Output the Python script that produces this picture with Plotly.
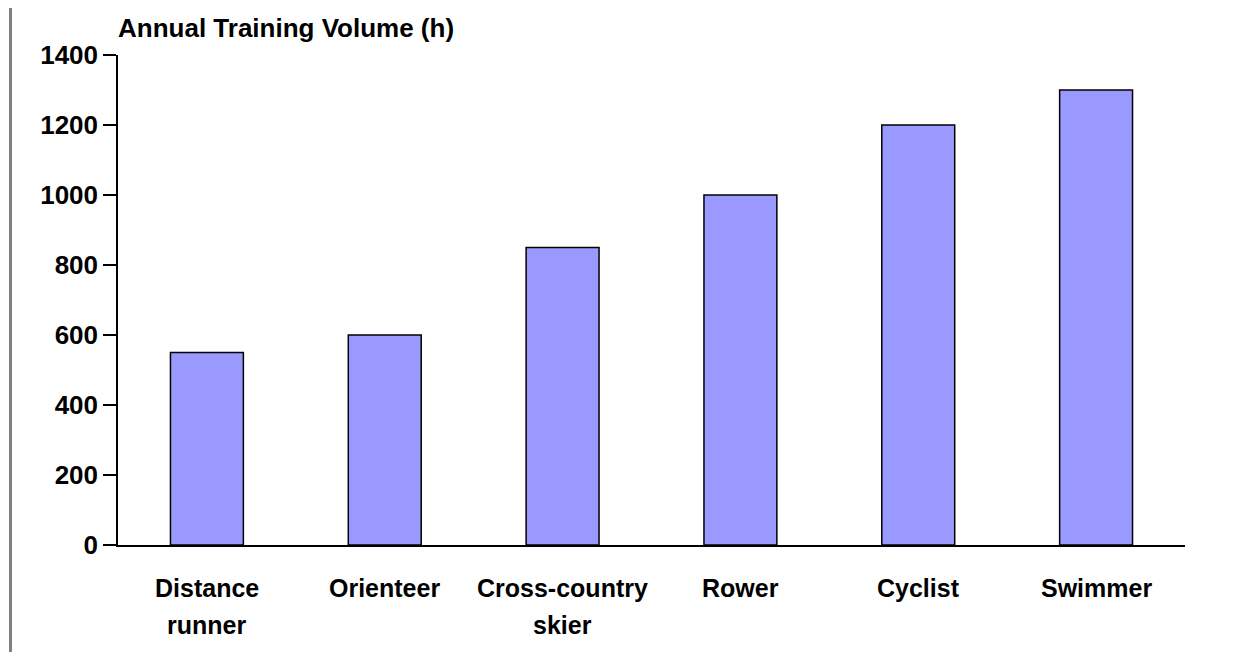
import plotly.graph_objects as go

categories = ["Distance runner", "Orienteer", "Cross-country skier", "Rower", "Cyclist", "Swimmer"]
label_lines = [["Distance", "runner"], ["Orienteer"], ["Cross-country", "skier"], ["Rower"], ["Cyclist"], ["Swimmer"]]
hours = [550, 600, 850, 1000, 1200, 1300]
y_ticks = [0, 200, 400, 600, 800, 1000, 1200, 1400]

FONT = "Liberation Sans, Arial, sans-serif"
W, H = 1239, 644  # page body adds 8px offset

fig = go.Figure(go.Bar(
    x=categories, y=hours,
    marker=dict(color="#9999FF", line=dict(color="black", width=1.5)),
))

annotations = []
for cat, lines in zip(categories, label_lines):
    for i, ln in enumerate(lines):
        annotations.append(dict(
            x=cat, y=0, xref="x", yref="paper", text="<b>" + ln + "</b>",
            showarrow=False, yanchor="middle", xanchor="center",
            yshift=-43 - 37 * i, font=dict(family=FONT, size=25, color="black"),
        ))

fig.update_layout(
    width=W, height=H,
    margin=dict(l=110, r=62, t=47, b=107),
    plot_bgcolor="white", paper_bgcolor="white",
    bargap=0.59,
    showlegend=False,
    title=dict(text="<b>Annual Training Volume (h)</b>", x=110 / W, xanchor="left",
               xref="container", y=1 - 20 / H, yanchor="middle",
               font=dict(family=FONT, size=26, color="black")),
    xaxis=dict(showticklabels=False, showline=True, linecolor="black", linewidth=1.5,
               ticks="", showgrid=False, zeroline=False),
    yaxis=dict(range=[0, 1400], tickvals=y_ticks, ticktext=["<b>%d</b>" % v for v in y_ticks],
               showline=True, linecolor="black", linewidth=1.5, ticks="outside",
               ticklen=13, tickcolor="black", tickwidth=1.5, showgrid=False, zeroline=False,
               tickfont=dict(family=FONT, size=26, color="black")),
    annotations=annotations,
    shapes=[dict(type="line", xref="paper", yref="paper",
                 x0=-107.5 / 1067, x1=-107.5 / 1067, y0=-107 / 490, y1=1 + 47 / 490,
                 line=dict(color="#808080", width=3))],
)

fig.write_html("out.html")
